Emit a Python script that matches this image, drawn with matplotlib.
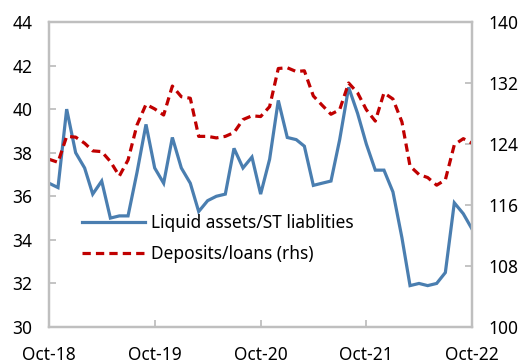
import pandas as pd
import matplotlib.pyplot as plt
import matplotlib.dates as mdates

# --- dados mensais, out/2018 a out/2022 ---
meses = pd.date_range('2018-10-01', periods=49, freq='MS')

liquid_assets = [36.6, 36.4, 40.0, 38.0, 37.3, 36.1, 36.7, 35.0, 35.1, 35.1,
                 37.1, 39.3, 37.3, 36.6, 38.7, 37.3, 36.6, 35.3, 35.8, 36.0,
                 36.1, 38.2, 37.3, 37.8, 36.1, 37.7, 40.4, 38.7, 38.6, 38.3,
                 36.5, 36.6, 36.7, 38.6, 41.0, 39.8, 38.4, 37.2, 37.2, 36.2,
                 34.1, 31.9, 32.0, 31.9, 32.0, 32.5, 35.7, 35.2, 34.5]

deposits_loans = [122.0, 121.6, 125.0, 124.9, 124.1, 123.1, 123.0, 121.7, 119.8, 121.9,
                  126.5, 129.2, 128.6, 127.8, 131.6, 130.2, 130.0, 125.0, 125.0, 124.8,
                  125.0, 125.5, 127.2, 127.7, 127.6, 128.9, 133.9, 134.0, 133.5, 133.6,
                  130.3, 129.1, 127.9, 128.5, 132.0, 130.7, 128.5, 127.0, 130.7, 129.9,
                  126.9, 121.1, 120.0, 119.6, 118.6, 119.3, 123.9, 124.7, 124.1]

ticks_x = pd.date_range('2018-10-01', periods=5, freq='12MS')

AZUL = '#4A7EB0'
VERMELHO = '#C00000'
CINZA = '#BFBFBF'
FONTE = 'Noto Sans'

plt.rcParams['font.family'] = FONTE
plt.rcParams['font.size'] = 12.5

fig = plt.figure(figsize=(5.27, 3.64), dpi=100)
ax = fig.add_axes([0.093, 0.1016, 0.8026, 0.838])
ax2 = ax.twinx()

l1, = ax.plot(meses, liquid_assets, color=AZUL, lw=2.3, solid_joinstyle='miter',
              label='Liquid assets/ST liablities')
l2, = ax2.plot(meses, deposits_loans, color=VERMELHO, lw=2.3, dashes=(2.6, 1.6),
               label='Deposits/loans (rhs)')

ax.set_xlim(meses[0], meses[-1])
ax.set_ylim(30, 44)
ax.set_yticks(range(30, 45, 2))
ax2.set_ylim(100, 140)
ax2.set_yticks(range(100, 141, 8))

ax.set_xticks(ticks_x)
ax.xaxis.set_major_formatter(mdates.DateFormatter('%b-%y'))

for eixo in (ax, ax2):
    for lado in eixo.spines.values():
        lado.set_color(CINZA)
        lado.set_linewidth(1.6)
    eixo.tick_params(direction='in', length=5, width=1.3, color=CINZA,
                     labelcolor='black', labelsize=12.5)
ax.tick_params(axis='y', pad=12)
ax.tick_params(axis='x', pad=14)
ax2.tick_params(axis='y', pad=12)

ax2.legend(handles=[l1, l2], loc='upper left', bbox_to_anchor=(0.078, 0.37),
           frameon=False, borderpad=0, borderaxespad=0, handlelength=3.6,
           handletextpad=0.4, labelspacing=0.75, fontsize=12.5)

# rótulo de unidade no topo (cortado pela borda)
fig.text(0.006, 1 + 3 / 364, '(Percent)', color='#5B9BD5', fontsize=12.5,
         va='baseline', ha='left')

fig.savefig('out.png', dpi=100)
